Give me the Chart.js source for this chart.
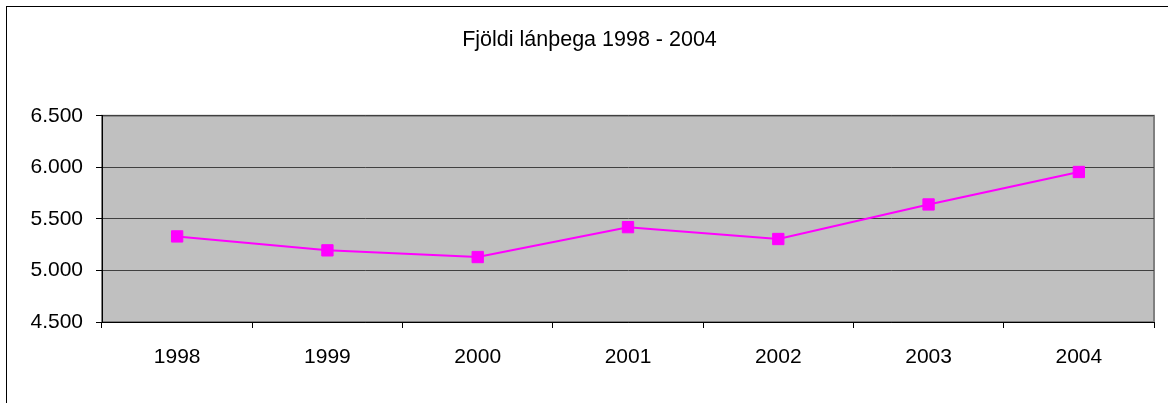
<!DOCTYPE html>
<html>
<head>
<meta charset="utf-8">
<script src="https://cdn.jsdelivr.net/npm/chart.js@4/dist/chart.umd.min.js"></script>
<style>
  html, body { margin: 0; padding: 0; background: #fff; }
  #wrap { width: 1168px; height: 403px; position: relative; }
</style>
</head>
<body>
<div id="wrap"><canvas id="lanthegar"></canvas></div>
<script>
// data
const ar = ['1998', '1999', '2000', '2001', '2002', '2003', '2004'];
const fjoldi = [5330, 5195, 5130, 5420, 5305, 5640, 5955];
const yTicks = [4500, 5000, 5500, 6000, 6500];

const font = "'Liberation Sans', Arial, sans-serif";

// grey plot background + outer frame
const bakgrunnur = {
    id: 'bakgrunnur',
    beforeDraw(chart) {
        const ctx = chart.ctx;
        const a = chart.chartArea;
        ctx.save();
        ctx.strokeStyle = '#000';
        ctx.lineWidth = 1;
        ctx.strokeRect(6.5, 6.5, 1200, 500);
        ctx.fillStyle = '#c0c0c0';
        ctx.fillRect(a.left, a.top, a.right - a.left, a.bottom - a.top);
        ctx.strokeStyle = '#808080';
        ctx.lineWidth = 2;
        ctx.strokeRect(a.left, a.top, a.right - a.left, a.bottom - a.top);
        ctx.restore();
    }
};

const ctx = document.getElementById('lanthegar').getContext('2d');

new Chart(ctx, {
    type: 'line',
    data: {
        labels: ar,
        datasets: [{
            label: 'Fjöldi lánþega',
            data: fjoldi,
            borderColor: '#ff00ff',
            backgroundColor: '#ff00ff',
            borderWidth: 2,
            pointStyle: 'rect',
            pointRadius: 8,
            pointBorderWidth: 1,
            pointHoverRadius: 8,
            tension: 0
        }]
    },
    options: {
        responsive: true,
        maintainAspectRatio: false,
        animation: false,
        layout: { padding: { left: 25, right: 14, top: 0, bottom: 0 } },
        plugins: {
            legend: { display: false },
            tooltip: { enabled: false },
            title: {
                display: true,
                text: 'Fjöldi lánþega 1998 - 2004',
                color: '#000',
                font: { family: font, size: 21.5, weight: 'normal' },
                padding: { top: 27, bottom: 63 }
            }
        },
        scales: {
            x: {
                offset: true,
                afterFit(scale) { scale.height = 81; },
                grid: {
                    offset: true,
                    drawOnChartArea: false,
                    drawTicks: true,
                    tickLength: 6,
                    color: '#000'
                },
                border: { color: '#000', width: 1 },
                ticks: {
                    color: '#000',
                    padding: 17,
                    font: { family: font, size: 21 }
                }
            },
            y: {
                min: 4500,
                max: 6500,
                afterFit(scale) { scale.width = 77; },
                afterBuildTicks(scale) {
                    scale.ticks = yTicks.map(v => ({ value: v }));
                },
                grid: {
                    color: '#404040',
                    lineWidth: 1,
                    tickLength: 6,
                    tickColor: '#000'
                },
                border: { color: '#000', width: 1 },
                ticks: {
                    color: '#000',
                    padding: 13,
                    font: { family: font, size: 21 },
                    callback: v => v.toString().replace(/\B(?=(\d{3})+(?!\d))/g, '.')
                }
            }
        }
    },
    plugins: [bakgrunnur]
});
</script>
</body>
</html>
